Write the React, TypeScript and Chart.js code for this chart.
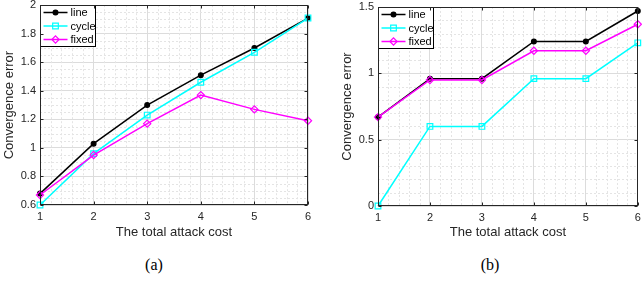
import React, { useEffect, useRef } from "react";
import { Chart, registerables } from "chart.js";
import { drawPoint } from "chart.js/helpers";

Chart.register(...registerables);

// ---- data ----
const costs = [1, 2, 3, 4, 5, 6];
const seriesNames = ["line", "cycle", "fixed"];

const aLine = [0.68, 1.03, 1.3, 1.51, 1.7, 1.91];
const aCycle = [0.6, 0.96, 1.23, 1.46, 1.67, 1.91];
const aFixed = [0.67, 0.95, 1.17, 1.37, 1.27, 1.19];

const bLine = [0.67, 0.96, 0.96, 1.24, 1.24, 1.47];
const bCycle = [0.0, 0.6, 0.6, 0.96, 0.96, 1.23];
const bFixed = [0.67, 0.95, 0.95, 1.17, 1.17, 1.37];

const xTickValues = [1, 2, 3, 4, 5, 6];
const aYTickValues = [0.6, 0.8, 1, 1.2, 1.4, 1.6, 1.8, 2];
const bYTickValues = [0, 0.5, 1, 1.5];

const xTitle = "The total attack cost";
const yTitle = "Convergence error";

// ---- styles ----
const AXIS = "#262626";
const FONT = '"Liberation Sans", Arial, Helvetica, sans-serif';
const seriesStyles = [
  { color: "#000000", pointStyle: "circle", radius: 2.4, fill: "#000000", order: 3 },
  { color: "#00FFFF", pointStyle: "rect", radius: 4, fill: "rgba(0,0,0,0)", order: 2 },
  { color: "#FF00FF", pointStyle: "rectRot", radius: 3.6, fill: "rgba(0,0,0,0)", order: 1 },
];

Chart.defaults.font.family = FONT;

const matlabPlugin: any = {
  id: "matlabAxes",
  beforeDatasetsDraw(chart: any, _a: any, opts: any) {
    const { ctx, chartArea: ca } = chart;
    const xs = chart.scales.x;
    const ys = chart.scales.y;
    ctx.save();
    ctx.strokeStyle = "#e4e4e4";
    ctx.lineWidth = 1;
    ctx.setLineDash([2, 2]);
    const isMajor = (v: number, arr: number[]) => arr.some((m) => Math.abs(m - v) < 1e-6);
    for (let i = 1; ; i++) {
      const v = xs.min + i * opts.xMinor;
      if (v >= xs.max - 1e-6) break;
      if (isMajor(v, opts.xMajor)) continue;
      const px = Math.round(xs.getPixelForValue(v)) + 0.5;
      ctx.beginPath();
      ctx.moveTo(px, ca.top);
      ctx.lineTo(px, ca.bottom);
      ctx.stroke();
    }
    for (let i = 1; ; i++) {
      const v = ys.min + i * opts.yMinor;
      if (v >= ys.max - 1e-6) break;
      if (isMajor(v, opts.yMajor)) continue;
      const py = Math.round(ys.getPixelForValue(v)) + 0.5;
      ctx.beginPath();
      ctx.moveTo(ca.left, py);
      ctx.lineTo(ca.right, py);
      ctx.stroke();
    }
    ctx.restore();
  },
  afterDatasetsDraw(chart: any, _a: any, opts: any) {
    const { ctx, chartArea: ca } = chart;
    const xs = chart.scales.x;
    const ys = chart.scales.y;
    ctx.save();
    ctx.setLineDash([]);
    const l = Math.round(ca.left) + 0.5;
    const r = Math.round(ca.right) - 0.5;
    const t = Math.round(ca.top) + 0.5;
    const b = Math.round(ca.bottom) - 0.5;
    // legend
    const lw = 55;
    const lh = 41;
    ctx.fillStyle = "#ffffff";
    ctx.fillRect(l, t, lw, lh);
    ctx.strokeStyle = "#000000";
    ctx.lineWidth = 1;
    ctx.strokeRect(l, t, lw, lh);
    chart.data.datasets.forEach((ds: any, i: number) => {
      const ry = t + 7 + i * 13.5;
      ctx.strokeStyle = ds.borderColor;
      ctx.lineWidth = 1.5;
      ctx.beginPath();
      ctx.moveTo(l + 3, ry);
      ctx.lineTo(l + 27, ry);
      ctx.stroke();
      ctx.fillStyle = ds.pointBackgroundColor;
      ctx.strokeStyle = ds.pointBorderColor;
      ctx.lineWidth = ds.pointBorderWidth;
      drawPoint(ctx, { pointStyle: ds.pointStyle, radius: ds.pointRadius, borderWidth: ds.pointBorderWidth, rotation: 0 } as any, l + 15, ry);
      ctx.fillStyle = "#000000";
      ctx.font = `11px ${FONT}`;
      ctx.textBaseline = "middle";
      ctx.textAlign = "left";
      ctx.fillText(ds.label, l + 30, ry + 0.5);
    });
    // box
    ctx.strokeStyle = AXIS;
    ctx.lineWidth = 1;
    ctx.strokeRect(l, t, r - l, b - t);
    // inward ticks
    ctx.beginPath();
    for (const v of opts.xMajor) {
      const px = Math.round(xs.getPixelForValue(v)) + 0.5;
      ctx.moveTo(px, b);
      ctx.lineTo(px, b - 3);
      ctx.moveTo(px, t);
      ctx.lineTo(px, t + 3);
    }
    for (const v of opts.yMajor) {
      const py = Math.round(ys.getPixelForValue(v)) + 0.5;
      ctx.moveTo(l, py);
      ctx.lineTo(l + 3, py);
      ctx.moveTo(r, py);
      ctx.lineTo(r - 3, py);
    }
    ctx.stroke();
    ctx.restore();
  },
};

type PanelCfg = {
  series: number[][];
  yMin: number;
  yMax: number;
  yTicks: number[];
  yMinor: number;
  xMinor: number;
  padding: { left: number; top: number; right: number; bottom: number };
  yWidth: number;
  xHeight: number;
  yTitlePad: number;
};

function buildChart(canvas: HTMLCanvasElement, cfg: PanelCfg) {
  return new Chart(canvas, {
    type: "line",
    data: {
      datasets: cfg.series.map((vals, i) => {
        const st = seriesStyles[i];
        return {
          label: seriesNames[i],
          data: costs.map((c, j) => ({ x: c, y: vals[j] })),
          borderColor: st.color,
          backgroundColor: st.fill,
          pointBackgroundColor: st.fill,
          pointBorderColor: st.color,
          pointStyle: st.pointStyle,
          pointRadius: st.radius,
          pointBorderWidth: 1.2,
          borderWidth: 1.5,
          tension: 0,
          clip: false,
          order: st.order,
        } as any;
      }),
    },
    options: {
      animation: false,
      responsive: false,
      events: [],
      layout: { padding: cfg.padding },
      plugins: {
        legend: { display: false },
        tooltip: { enabled: false },
        matlabAxes: { xMinor: cfg.xMinor, yMinor: cfg.yMinor, xMajor: xTickValues, yMajor: cfg.yTicks },
      } as any,
      scales: {
        x: {
          type: "linear",
          min: xTickValues[0],
          max: xTickValues[xTickValues.length - 1],
          afterBuildTicks: (s: any) => {
            s.ticks = xTickValues.map((v) => ({ value: v }));
          },
          afterFit: (s: any) => {
            s.height = cfg.xHeight;
            s.paddingLeft = 0;
            s.paddingRight = 0;
          },
          grid: { color: "#dcdcdc", drawTicks: false },
          border: { display: false },
          ticks: {
            padding: 5,
            color: AXIS,
            font: { family: FONT, size: 11 },
            maxRotation: 0,
            autoSkip: false,
            callback: (v: any) => String(v),
          },
          title: {
            display: true,
            text: xTitle,
            color: AXIS,
            font: { family: FONT, size: 13 },
            padding: { top: 0, bottom: 0 },
          },
        },
        y: {
          type: "linear",
          min: cfg.yMin,
          max: cfg.yMax,
          afterBuildTicks: (s: any) => {
            s.ticks = cfg.yTicks.map((v) => ({ value: v }));
          },
          afterFit: (s: any) => {
            s.width = cfg.yWidth;
            s.paddingTop = 0;
            s.paddingBottom = 0;
          },
          grid: { color: "#dcdcdc", drawTicks: false },
          border: { display: false },
          ticks: {
            padding: 4,
            color: AXIS,
            font: { family: FONT, size: 11 },
            autoSkip: false,
            callback: (v: any) => String(v),
          },
          title: {
            display: true,
            text: yTitle,
            color: AXIS,
            font: { family: FONT, size: 13 },
            padding: { top: cfg.yTitlePad, bottom: 0 },
          },
        },
      },
    } as any,
    plugins: [matlabPlugin],
  });
}

export default function App() {
  const refA = useRef<HTMLCanvasElement>(null);
  const refB = useRef<HTMLCanvasElement>(null);

  useEffect(() => {
    const ca = buildChart(refA.current!, {
      series: [aLine, aCycle, aFixed],
      yMin: 0.6,
      yMax: 2,
      yTicks: aYTickValues,
      yMinor: 0.05,
      xMinor: 0.2,
      padding: { left: 2, top: 4, right: 12, bottom: 0 },
      yWidth: 38,
      xHeight: 35,
      yTitlePad: 0,
    });
    const cb = buildChart(refB.current!, {
      series: [bLine, bCycle, bFixed],
      yMin: 0,
      yMax: 1.5,
      yTicks: bYTickValues,
      yMinor: 0.1,
      xMinor: 0.2,
      padding: { left: 20, top: 7, right: 0, bottom: 0 },
      yWidth: 38,
      xHeight: 34,
      yTitlePad: 0,
    });
    return () => {
      ca.destroy();
      cb.destroy();
    };
  }, []);

  const caption: React.CSSProperties = {
    position: "absolute",
    top: 255,
    width: 100,
    textAlign: "center",
    fontFamily: '"Liberation Serif", "Times New Roman", serif',
    fontSize: 16,
    lineHeight: "20px",
    color: "#000",
  };

  return (
    <div
      style={{
        position: "absolute",
        left: 0,
        top: 0,
        width: 642,
        height: 286,
        overflow: "hidden",
        background: "#ffffff",
      }}
    >
      <canvas
        ref={refA}
        width={320}
        height={240}
        style={{ position: "absolute", left: 0, top: 0, width: 320, height: 240 }}
      />
      <canvas
        ref={refB}
        width={323}
        height={240}
        style={{ position: "absolute", left: 320, top: 0, width: 323, height: 240 }}
      />
      <div style={{ ...caption, left: 104 }}>(a)</div>
      <div style={{ ...caption, left: 440 }}>(b)</div>
    </div>
  );
}
